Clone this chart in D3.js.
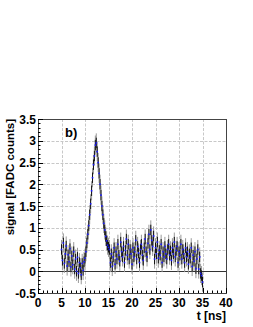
<!DOCTYPE html>
<html>
<head>
  <meta charset="UTF-8" />
  <script src="https://cdn.jsdelivr.net/npm/d3@7"></script>
  <style>
    body, html { margin:0; padding:0; background:#fff; }
    svg { display:block; font-family: "Liberation Sans", Arial, sans-serif; font-weight:bold; }
    .grid line { stroke:#c8c8c8; stroke-dasharray:3,1.5; stroke-width:1; }
    .tick-label { font-size:12px; fill:#000; }
  </style>
</head>
<body>
  <svg id="chart" width="253" height="327"></svg>
  <script>
    // sampling of the trace (ns)
    const tStart = 5.0, tStep = 0.2;
    // measured signal [FADC counts], one value per sample
    const signal = [
      0.50,0.25,0.65,0.18,0.40,0.58,0.12,0.38,0.22,0.52,0.10,0.35,0.15,0.45,0.05,0.28,0.00,0.32,-0.05,0.20,0.08,-0.08,0.18,0.02,0.22,0.30,
      0.45,0.65,0.85,1.05,1.30,1.55,1.85,2.15,2.45,2.65,2.90,2.95,2.75,2.50,2.25,2.00,1.75,1.50,1.30,1.10,0.95,0.80,0.70,0.60,0.55,
      0.50,0.20,0.40,0.11,0.33,0.54,0.16,0.45,0.28,0.62,
      0.37,0.23,0.67,0.45,0.33,0.57,0.20,0.48,0.74,0.37,
      0.62,0.28,0.50,0.40,0.16,0.54,0.33,0.45,0.71,0.28,
      0.57,0.42,0.20,0.50,0.62,0.37,0.25,0.54,0.74,0.45,
      0.33,0.64,0.85,0.50,0.95,0.71,0.57,0.81,0.28,0.54,
      0.40,0.67,0.30,0.48,0.37,0.62,0.20,0.45,0.33,0.57,
      0.40,0.28,0.50,0.62,0.37,0.47,0.25,0.54,0.40,0.67,
      0.33,0.48,0.57,0.20,0.45,0.37,0.62,0.28,0.50,0.40,
      0.20,0.54,0.33,0.45,0.16,0.40,0.30,0.54,0.11,0.37,
      0.23,0.45,0.06,0.28,0.50,0.05,0.33,-0.05,-0.10,-0.25
    ];
    const statErr = 0.12;   // black bars
    const sysErr = 0.22;    // grey bars
    const xTicks = [0,5,10,15,20,25,30,35,40];
    const yTicks = [-0.5,0,0.5,1,1.5,2,2.5,3,3.5];

    const data = signal.map((v,i) => ({ t: tStart + i*tStep, v }));

    const svg = d3.select('#chart');
    const L = 38, R = 226, T = 119, B = 293;

    const x = d3.scaleLinear().domain([0,40]).range([L,R]);
    const y = d3.scaleLinear().domain([-0.5,3.5]).range([B,T]);

    // grid
    const grid = svg.append('g').attr('class','grid');
    grid.selectAll('.gx').data(xTicks.slice(1,-1)).enter().append('line')
      .attr('x1', d => Math.round(x(d))+0.5).attr('x2', d => Math.round(x(d))+0.5)
      .attr('y1', T).attr('y2', B);
    grid.selectAll('.gy').data(yTicks.slice(1,-1)).enter().append('line')
      .attr('x1', L).attr('x2', R)
      .attr('y1', d => Math.round(y(d))+0.5).attr('y2', d => Math.round(y(d))+0.5);

    // zero line
    svg.append('line')
      .attr('x1', L).attr('x2', R)
      .attr('y1', Math.round(y(0))+0.5).attr('y2', Math.round(y(0))+0.5)
      .attr('stroke','#333').attr('stroke-width',1);

    // error bars
    svg.append('g').selectAll('line').data(data).enter().append('line')
      .attr('x1', d => x(d.t)).attr('x2', d => x(d.t))
      .attr('y1', d => y(d.v - sysErr)).attr('y2', d => y(d.v + sysErr))
      .attr('stroke','#999').attr('stroke-width',1);
    svg.append('g').selectAll('line').data(data).enter().append('line')
      .attr('x1', d => x(d.t)).attr('x2', d => x(d.t))
      .attr('y1', d => y(d.v - statErr)).attr('y2', d => y(d.v + statErr))
      .attr('stroke','#111').attr('stroke-width',1);

    // points
    svg.append('g').selectAll('rect').data(data).enter().append('rect')
      .attr('x', d => x(d.t)-0.8).attr('y', d => y(d.v)-0.8)
      .attr('width',1.6).attr('height',1.6)
      .attr('fill','#1a1aff');

    // frame
    svg.append('rect')
      .attr('x', L+0.5).attr('y', T+0.5)
      .attr('width', R-L).attr('height', B-T)
      .attr('fill','none').attr('stroke','#444').attr('stroke-width',1);

    // ticks (inside, ROOT style)
    const ax = svg.append('g').attr('stroke','#000').attr('stroke-width',1);
    const xMinor = d3.range(0,40.01,1);
    const yMinor = d3.range(-0.5,3.51,0.1);
    ax.selectAll('.xt').data(xMinor).enter().append('line')
      .attr('x1', d => Math.round(x(d))+0.5).attr('x2', d => Math.round(x(d))+0.5)
      .attr('y1', B).attr('y2', d => B - (xTicks.includes(d) ? 5 : 2.5));
    ax.selectAll('.yt').data(yMinor).enter().append('line')
      .attr('y1', d => Math.round(y(d))+0.5).attr('y2', d => Math.round(y(d))+0.5)
      .attr('x1', L).attr('x2', (d,i) => L + (i % 5 === 0 ? 5 : 2.5));

    // tick labels
    svg.selectAll('.xl').data(xTicks).enter().append('text')
      .attr('class','tick-label')
      .attr('x', d => x(d)).attr('y', 307)
      .attr('text-anchor','middle')
      .text(d => d);
    svg.selectAll('.yl').data(yTicks).enter().append('text')
      .attr('class','tick-label')
      .attr('x', 36).attr('y', d => y(d) + 4.5)
      .attr('text-anchor','end')
      .text(d => d);

    // titles
    svg.append('text')
      .attr('x', R).attr('y', 320)
      .attr('text-anchor','end')
      .attr('font-size', 12)
      .text('t [ns]');
    svg.append('text')
      .attr('transform', `translate(14,${T}) rotate(-90)`)
      .attr('text-anchor','end')
      .attr('font-size', 11.5)
      .text('signal [FADC counts]');
    svg.append('text')
      .attr('x', 65).attr('y', 137)
      .attr('font-size', 13)
      .text('b)');
  </script>
</body>
</html>
